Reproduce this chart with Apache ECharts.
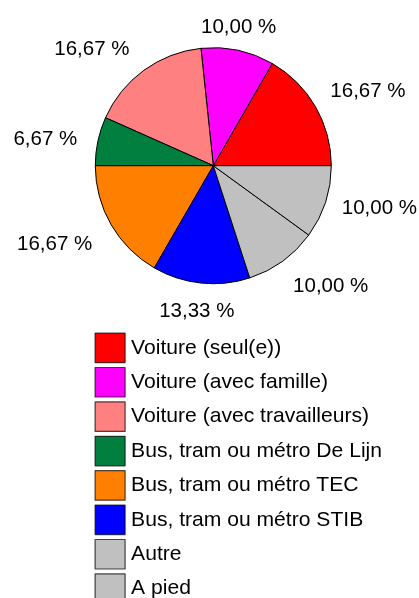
<!DOCTYPE html>
<html>
<head>
<meta charset="utf-8">
<script src="https://cdn.jsdelivr.net/npm/echarts@6/dist/echarts.min.js"></script>
<style>
html,body{margin:0;padding:0;background:#fff;}
#chart{width:419px;height:598px;}
</style>
</head>
<body>
<div id="chart"></div>
<script>
const categories = [
  'Voiture (seul(e))',
  'Voiture (avec famille)',
  'Voiture (avec travailleurs)',
  'Bus, tram ou métro De Lijn',
  'Bus, tram ou métro TEC',
  'Bus, tram ou métro STIB',
  'Autre',
  'A pied'
];
const values = [16.67, 10.00, 16.67, 6.67, 16.67, 13.33, 10.00, 10.00];
const colors = ['#ff0000', '#ff00ff', '#ff8080', '#007f3f', '#ff8000', '#0000ff', '#c0c0c0', '#c0c0c0'];

const CENTER = [213.3, 165.7];
const RADIUS = 118;
const LABEL_DIST = 134;
const FONT = "'Liberation Sans', Arial, sans-serif";

const total = values.reduce((a, b) => a + b, 0);
const midAngles = [];
let acc = 0;
values.forEach(v => {
  midAngles.push((acc + v / 2) / total * 2 * Math.PI);
  acc += v;
});

const chart = echarts.init(document.getElementById('chart'), null, {renderer: 'canvas'});

chart.setOption({
  animation: false,
  backgroundColor: '#ffffff',
  legend: {
    orient: 'vertical',
    left: 94.5,
    top: 332.5,
    height: 320,
    padding: 0,
    icon: 'rect',
    itemWidth: 30,
    itemHeight: 29.5,
    itemGap: 3.7,
    textStyle: {fontFamily: FONT, fontSize: 21.1, color: '#000', padding: [0, 0, 0, 1]},
    data: categories.map((c, i) => ({
      name: c,
      itemStyle: {color: colors[i], borderColor: 'rgba(0,0,0,0.7)', borderWidth: 1.2}
    }))
  },
  series: [{
    type: 'pie',
    center: CENTER,
    radius: RADIUS,
    startAngle: 0,
    clockwise: false,
    avoidLabelOverlap: false,
    itemStyle: {borderColor: '#000', borderWidth: 1},
    emphasis: {disabled: true},
    label: {
      show: true,
      position: 'outside',
      fontFamily: FONT,
      fontSize: 20.5,
      color: '#000',
      formatter: p => p.value.toFixed(2).replace('.', ',') + ' %'
    },
    labelLine: {show: false},
    labelLayout: function (params) {
      const a = midAngles[params.dataIndex];
      const c = Math.cos(a), s = Math.sin(a);
      const oct = 0.383; // sin(22.5deg)
      const align = c > oct ? 'left' : (c < -oct ? 'right' : 'center');
      const valign = s > oct ? 'bottom' : (s < -oct ? 'top' : 'middle');
      const dx = align === 'left' ? 1 : (align === 'center' ? -2.5 : -5);
      const dy = valign === 'bottom' ? 3 : 1.5;
      const x = CENTER[0] + LABEL_DIST * c + dx;
      const y = CENTER[1] - LABEL_DIST * s + dy;
      return {x: x, y: y, align: align, verticalAlign: valign};
    },
    data: categories.map((c, i) => ({
      name: c,
      value: values[i],
      itemStyle: {color: colors[i]}
    }))
  }]
});
</script>
</body>
</html>
